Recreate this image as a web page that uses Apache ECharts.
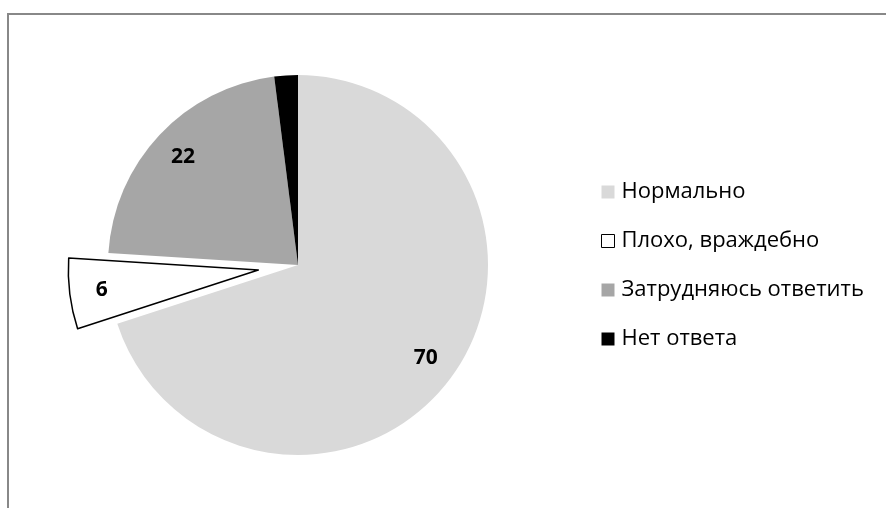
<!DOCTYPE html>
<html><head><meta charset="utf-8">
<script src="https://cdn.jsdelivr.net/npm/echarts@6/dist/echarts.min.js"></script>
<style>html,body{margin:0;padding:0;background:#fff}#c{width:886px;height:508px}</style>
</head><body><div id="c"></div>
<script>
const categories = ['Нормально', 'Плохо, враждебно', 'Затрудняюсь ответить', 'Нет ответа'];
const values = [70, 6, 22, 2];
const colors = ['#d9d9d9', '#ffffff', '#a6a6a6', '#000000'];
const explodedIndex = 1;

const chart = echarts.init(document.getElementById('c'), null, {renderer: 'canvas'});
const FONT = '"Open Sans", "Noto Sans", sans-serif';
const center = [298, 265];
const R = 190;

const pieData = categories.map((name, i) => ({
  name, value: values[i], selected: i === explodedIndex,
  itemStyle: i === explodedIndex
    ? {color: colors[i], borderColor: '#000', borderWidth: 1.5}
    : {color: colors[i], borderWidth: 0}
}));
const labelData = categories.map((name, i) => ({
  name, value: values[i], selected: i === explodedIndex,
  label: {show: i !== 3}
}));

chart.setOption({
  animation: false,
  backgroundColor: '#fff',
  graphic: [{
    type: 'rect', silent: true, z: -1,
    shape: {x: 8, y: 14, width: 900, height: 520},
    style: {fill: 'none', stroke: '#888888', lineWidth: 2}
  }],
  legend: {
    orient: 'vertical', left: 601, top: 180, padding: 0,
    itemWidth: 13, itemHeight: 13, itemGap: 25,
    icon: 'rect', selectedMode: false,
    textStyle: {fontFamily: FONT, fontSize: 22, lineHeight: 24, color: '#000', padding: [0, 0, 0, 2]},
    data: categories.map((name, i) => ({
      name,
      itemStyle: i === explodedIndex ? {color: '#fff', borderColor: '#000', borderWidth: 1} : {color: colors[i], borderWidth: 0}
    }))
  },
  series: [{
    type: 'pie', center, radius: [0, R], startAngle: 90, clockwise: true,
    selectedMode: 'single', selectedOffset: 40, silent: true,
    label: {show: false}, labelLine: {show: false},
    emphasis: {disabled: true},
    data: pieData
  }, {
    type: 'pie', center, radius: [R * 0.63, R], startAngle: 90, clockwise: true,
    selectedMode: 'single', selectedOffset: 40, silent: true, z: 3,
    itemStyle: {color: 'rgba(0,0,0,0)', borderWidth: 0},
    label: {show: true, position: 'inside', formatter: '{c}', fontFamily: FONT, fontWeight: 'bold', fontSize: 21, color: '#000'},
    labelLine: {show: false},
    emphasis: {disabled: true},
    data: labelData
  }]
});
</script></body></html>
